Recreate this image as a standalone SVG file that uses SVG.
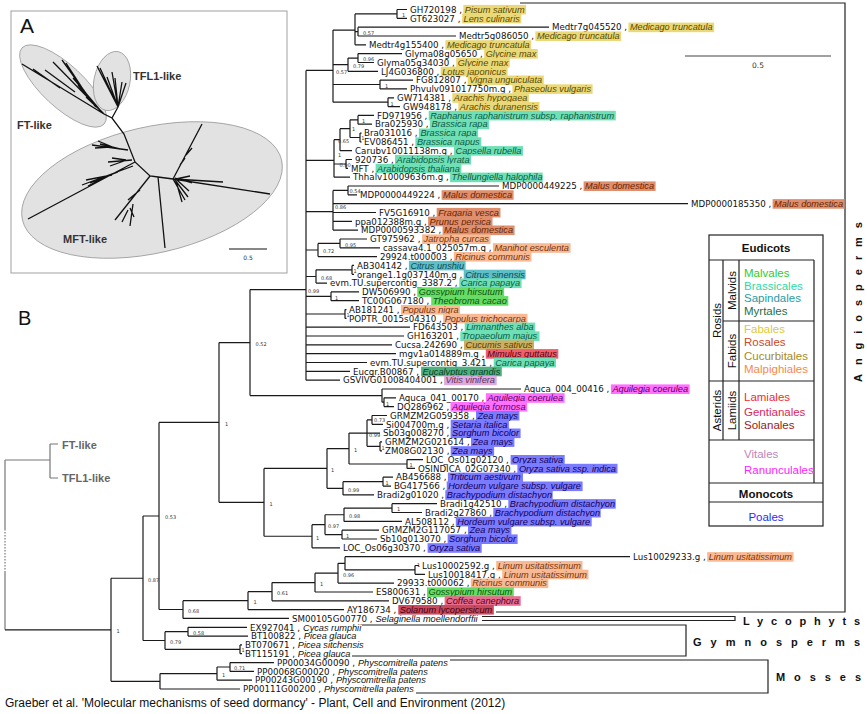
<svg xmlns="http://www.w3.org/2000/svg" width="867" height="714" viewBox="0 0 867 714">
<style>
.t{font-family:"DejaVu Sans",sans-serif;font-size:8.7px;fill:#111}
.sp{font-family:"Liberation Sans",Arial,sans-serif;font-style:italic;font-size:9.2px}
.nl{font-family:"DejaVu Sans",sans-serif;font-size:5px;fill:#333}
.br{fill:none;stroke:#1a1a1a;stroke-width:1.2}
.gr{fill:none;stroke:#777;stroke-width:1.2}
.lg{fill:none;stroke:#222;stroke-width:1.2}
.gl{font-family:"Liberation Sans",Arial,sans-serif;font-weight:bold;font-size:11px;fill:#111}
.le{font-family:"Liberation Sans",Arial,sans-serif;font-size:11.5px}
.leb{font-family:"Liberation Sans",Arial,sans-serif;font-size:11.5px;font-weight:bold;fill:#111}
.pa{font-family:"Liberation Sans",Arial,sans-serif;font-weight:bold;font-size:11px;fill:#333}
.hFab{fill:#ead978}.sFab{fill:#5c4a00}
.hBra{fill:#6fe0b6}.sBra{fill:#0b5a42}
.hRos{fill:#df8f6d}.sRos{fill:#6a2400}
.hMal{fill:#f7ba94}.sMal{fill:#7a3308}
.hSap{fill:#5fbfc6}.sSap{fill:#0b4a55}
.hMv{fill:#66dc66}.sMv{fill:#0b550b}
.hCuc{fill:#cbb066}.sCuc{fill:#5a4200}
.hLam{fill:#ef5f6c}.sLam{fill:#5a0010}
.hMyr{fill:#50b080}.sMyr{fill:#0a3d22}
.hVit{fill:#dcaadc}.sVit{fill:#603060}
.hRan{fill:#ff70ff}.sRan{fill:#600060}
.hPoa{fill:#7b7bff}.sPoa{fill:#12005a}
.hGen{fill:#e86c8e}.sGen{fill:#5a0020}
.hSol{fill:#c84a5e}.sSol{fill:#4a0010}
.sNo{fill:#111}
</style>
<rect width="867" height="714" fill="#fff"/>

<!-- Panel A -->
<g id="panelA">
<rect x="11" y="11" width="276" height="262" fill="#fff" stroke="#a0a0a0" stroke-width="1"/>
<text x="20" y="33" font-family="Liberation Sans,Arial,sans-serif" font-size="21" fill="#111">A</text>
<ellipse cx="63" cy="86" rx="56" ry="21" transform="rotate(43 63 86)" fill="#e2e2e2" stroke="#999" stroke-width="0.8"/>
<ellipse cx="112" cy="81" rx="18" ry="30" transform="rotate(12 112 81)" fill="#e2e2e2" stroke="#999" stroke-width="0.8"/>
<ellipse cx="152" cy="190" rx="133" ry="63" transform="rotate(-13 152 190)" fill="#e2e2e2" stroke="#999" stroke-width="0.8"/>
<path fill="none" stroke="#111" stroke-width="1.3" d="M22 64L104 114M33 69L60 88M53 62L104 114M62 60L95 106M66 63L92 103M73 78L100 110M78 85L96 107M86 97L102 112M45 70L75 92M104 114L112 118L124 134L135 162L150 176L158 177L173 179M112 118L118 107M118 107L97 66M118 107L100 68M118 107L107 77M118 107L115 78M118 107L122 82M118 107L126 83M118 107L112 72M128 150L92 145M115 148L98 141M110 147L95 148M120 149L100 144M135 162L28 219M133 166L82 185M112 175L86 180M105 177L88 186M118 172L90 183M132 160L108 162M124 161L110 166M126 160L112 158M150 176L115 220M140 190L128 200M133 204L130 226M130 208L134 217M128 210L122 222M158 177L165 248M173 179L202 124M186 155L192 148M180 165L185 158M173 179L223 182M173 179L270 194M173 179L185 200M175 180L188 197M176 179L190 176M175 178L192 183M176 181L182 202M177 180L189 191"/>
<text class="pa" x="133" y="80" font-size="12">TFL1-like</text>
<text class="pa" x="17" y="129" font-size="12">FT-like</text>
<text class="pa" x="63" y="243" font-size="12">MFT-like</text>
<path d="M229 249H267" stroke="#111" stroke-width="1.2"/>
<text x="248" y="260" font-family="DejaVu Sans,sans-serif" font-size="6" text-anchor="middle" fill="#333">0.5</text>
</g>

<text x="18" y="325" font-family="Liberation Sans,Arial,sans-serif" font-size="20" fill="#111">B</text>

<!-- connectors -->
<g id="connectors">
<path class="gr" d="M5 460V529M5 571V629.8M5 460H50M50 444V478M50 444H58M50 478H58"/>
<path class="gr" d="M5 529V571" stroke-dasharray="1.5 1.5"/>
<path class="br" d="M5 629.8H111
M397 9.5V18.3M397 9.5H407M397 18.3H407
M358 27.2V36M358 27.2H549M358 36H456
M355 13.9V44.8M355 13.9H397M355 31.6H358M355 44.8H366
M358 53.6V62.5M358 53.6H402M358 62.5H374
M348 58.05V71.3M348 58.05H358M348 71.3H378
M380 80.1V88.9M380 80.1H413M380 88.9H407
M388 97.8V106.6M388 97.8H394M388 106.6H400
M333 30.1V102.2M333 30.1H355M333 64.7H348M333 84.5H380M333 102.2H388
M358 115.4V124.2M358 115.4H374M358 124.2H372
M360 133.1V141.9M360 133.1H361.5M360 141.9H361.5
M350 119.8V137.5M350 119.8H358M350 137.5H360
M340 128.65V150.7M340 128.65H350M340 150.7H352
M346 159.5V168.4M346 159.5H352M346 168.4H348
M334 139.7V177.2M334 139.7H340M334 164H346M334 177.2H350
M348 186V194.8M348 186H499M348 194.8H357
M333 190.4V230.1M333 190.4H348M333 203.7H688M333 212.5H376M333 221.3H352M333 230.1H358
M340 239V247.8M340 239H367M340 247.8H380
M318 243.4V256.6M318 243.4H340M318 256.6H377
M352 265.4V274.3M352 265.4H354M352 274.3H354
M316 269.85V283.1M316 269.85H352M316 283.1H327
M331 291.9V300.7M331 291.9H359M331 300.7H359
M345 309.6V318.4M345 309.6H346.5M345 318.4H346.5
M306 70.4V380.2M306 70.4H333M306 160.3H334M306 211.6H333M306 250H318M306 276.5H316M306 296.3H331M306 314H345M306 327.2H410M306 336H404M306 344.9H392M306 353.7H396M306 362.5H367M306 371.3H350M306 380.2H340
M384 397.8V406.6M384 397.8H396M384 406.6H394M382 389V402.2M382 389H521M382 402.2H384
M250 289.6V395.6M250 289.6H306M250 395.6H382
M372 415.5V424.3M372 415.5H387M372 424.3H383
M380 441.9V450.8M380 441.9H382M380 450.8H382
M367 419.9V446.35M367 419.9H372M367 433.1H380M367 446.35H380
M407 459.6V468.4M407 459.6H423M407 468.4H415
M349 433.1V464M349 433.1H367M349 464H407
M383 477.2V486.1M383 477.2H393M383 486.1H391
M343 481.65V494.9M343 481.65H383M343 494.9H374
M327 448.55V488.3M327 448.55H349M327 488.3H343
M392 503.7V512.5M392 503.7H437M392 512.5H422
M344 508.1V521.4M344 508.1H392M344 521.4H402
M342 530.2V539M342 530.2H379M342 539H377
M325 514.75V534.6M325 514.75H344M325 534.6H342
M312 524.7V547.8M312 524.7H325M312 547.8H340
M264 468.4V536.25M264 468.4H327M264 536.25H312
M219 342.6V502.3M219 342.6H250M219 502.3H264
M415 565.5V574.3M415 565.5H419M415 574.3H425
M345 556.7V569.9M345 556.7H630M345 569.9H415
M338 563.3V583.1M338 563.3H345M338 583.1H394
M315 573.2V592M315 573.2H338M315 592H373
M272 582.6V600.8M272 582.6H315M272 600.8H389
M248 591.7V609.6M248 591.7H272M248 609.6H344
M183 600.65V618.4M183 600.65H248M183 618.4H289
M159 422.45V609.5M159 422.45H219M159 609.5H183
M188 627.3V636.1M188 627.3H247M188 636.1H248
M240 644.9V653.7M240 644.9H242M240 653.7H242
M165 631.7V649.3M165 631.7H188M165 649.3H240
M143 516V640.5M143 516H159M143 640.5H165
M230 662.6V671.4M230 662.6H274M230 671.4H254
M217 667V680.2M217 667H230M217 680.2H252
M160 673.6V689M160 673.6H217M160 689H240
M111 578.25V681.3M111 578.25H143M111 681.3H160"/>
<!-- group brackets -->
<path class="lg" d="M520 3H845V612H496M482 616.5H735V620.5H482M362 625H686V656H352M450 660H768V693H416"/>
<path d="M685 56H831" stroke="#444" stroke-width="1.2"/>
</g>
<text x="758" y="68" font-family="DejaVu Sans,sans-serif" font-size="7.5" text-anchor="middle" fill="#333">0.5</text>

<text class="pa" x="62" y="449" style="fill:#666">FT-like</text>
<text class="pa" x="62" y="482" style="fill:#666">TFL1-like</text>

<!-- support values -->
<g id="support">
<text class="nl" x="363" y="34.9">0.57</text>
<text class="nl" x="402" y="16.5">1</text>
<text class="nl" x="363" y="61.4">0.96</text>
<text class="nl" x="353" y="68">0.79</text>
<text class="nl" x="385" y="87.8">1</text>
<text class="nl" x="390.5" y="105.5">1</text>
<text class="nl" x="336" y="73.7">0.57</text>
<text class="nl" x="362" y="123">1</text>
<text class="nl" x="361.3" y="140.3">1</text>
<text class="nl" x="352" y="131">1</text>
<text class="nl" x="338" y="142.5">0.65</text>
<text class="nl" x="338" y="157">1</text>
<text class="nl" x="339.5" y="166.5">0.90</text>
<text class="nl" x="349.5" y="192.5">0.54</text>
<text class="nl" x="335" y="208.5">0.86</text>
<text class="nl" x="345" y="246.7">0.95</text>
<text class="nl" x="323" y="253.3">0.72</text>
<text class="nl" x="353.5" y="272.5">1</text>
<text class="nl" x="321" y="279.8">0.68</text>
<text class="nl" x="335" y="299.6">1</text>
<text class="nl" x="308" y="292.9">0.99</text>
<text class="nl" x="346.5" y="316.5">1</text>
<text class="nl" x="386" y="405.5">1</text>
<text class="nl" x="255.5" y="345.9">0.52</text>
<text class="nl" x="374" y="422">0.73</text>
<text class="nl" x="381.5" y="449.5">1</text>
<text class="nl" x="369" y="437">0.99</text>
<text class="nl" x="409.5" y="467">1</text>
<text class="nl" x="354" y="451.9">1</text>
<text class="nl" x="385.5" y="484.5">1</text>
<text class="nl" x="348" y="491.6">0.99</text>
<text class="nl" x="331" y="471.7">1</text>
<text class="nl" x="397" y="511.4">1</text>
<text class="nl" x="349" y="518">0.98</text>
<text class="nl" x="346" y="537.9">1</text>
<text class="nl" x="328" y="528">0.97</text>
<text class="nl" x="316" y="539.5">1</text>
<text class="nl" x="269.5" y="505.6">1</text>
<text class="nl" x="225" y="425.7">1</text>
<text class="nl" x="417" y="567">1</text>
<text class="nl" x="343" y="576.5">0.96</text>
<text class="nl" x="320" y="585.9">1</text>
<text class="nl" x="277" y="595">0.61</text>
<text class="nl" x="253.5" y="604">1</text>
<text class="nl" x="188" y="612.8">0.68</text>
<text class="nl" x="165" y="519.3">0.53</text>
<text class="nl" x="193" y="635">0.58</text>
<text class="nl" x="241.5" y="652">1</text>
<text class="nl" x="170" y="643.8">0.79</text>
<text class="nl" x="148" y="581.5">0.87</text>
<text class="nl" x="234" y="669.5">0.71</text>
<text class="nl" x="222" y="676.9">1</text>
<text class="nl" x="116.5" y="633">1</text>
</g>

<!-- leaves -->
<g id="leaf-GH720198"><rect class="hFab" x="463.3" y="4.9" width="62.8" height="9.6"/><text class="t" x="410" y="12.7">GH720198 , <tspan class="sp sFab" x="464.8">Pisum sativum</tspan></text></g>
<g id="leaf-GT623027"><rect class="hFab" x="462.1" y="13.7" width="59.2" height="9.6"/><text class="t" x="410" y="21.5">GT623027 , <tspan class="sp sFab" x="463.6">Lens culinaris</tspan></text></g>
<g id="leaf-Medtr7g045520"><rect class="hFab" x="628.4" y="22.6" width="85.8" height="9.6"/><text class="t" x="552" y="30.4">Medtr7g045520 , <tspan class="sp sFab" x="629.9">Medicago truncatula</tspan></text></g>
<g id="leaf-Medtr5g086050"><rect class="hFab" x="535.4" y="31.4" width="85.8" height="9.6"/><text class="t" x="459" y="39.2">Medtr5g086050 , <tspan class="sp sFab" x="536.9">Medicago truncatula</tspan></text></g>
<g id="leaf-Medtr4g155400"><rect class="hFab" x="445.4" y="40.2" width="85.8" height="9.6"/><text class="t" x="369" y="48">Medtr4g155400 , <tspan class="sp sFab" x="446.9">Medicago truncatula</tspan></text></g>
<g id="leaf-Glyma08g05650"><rect class="hFab" x="484.2" y="49" width="53.6" height="9.6"/><text class="t" x="405" y="56.8">Glyma08g05650 , <tspan class="sp sFab" x="485.7">Glycine max</tspan></text></g>
<g id="leaf-Glyma05g34030"><rect class="hFab" x="456.2" y="57.9" width="53.6" height="9.6"/><text class="t" x="377" y="65.7">Glyma05g34030 , <tspan class="sp sFab" x="457.7">Glycine max</tspan></text></g>
<g id="leaf-LJ4G036800"><rect class="hFab" x="440.7" y="66.7" width="66.9" height="9.6"/><text class="t" x="381" y="74.5">LJ4G036800 , <tspan class="sp sFab" x="442.2">Lotus japonicus</tspan></text></g>
<g id="leaf-FG812807"><rect class="hFab" x="467.7" y="75.5" width="76.1" height="9.6"/><text class="t" x="416" y="83.3">FG812807 , <tspan class="sp sFab" x="469.2">Vigna unguiculata</tspan></text></g>
<g id="leaf-Phvulv091017750m.g"><rect class="hFab" x="512.4" y="84.3" width="80.2" height="9.6"/><text class="t" x="410" y="92.1">Phvulv091017750m.g , <tspan class="sp sFab" x="513.9">Phaseolus vulgaris</tspan></text></g>
<g id="leaf-GW714381"><rect class="hFab" x="452.3" y="93.2" width="76.6" height="9.6"/><text class="t" x="397" y="101">GW714381 , <tspan class="sp sFab" x="453.8">Arachis hypogaea</tspan></text></g>
<g id="leaf-GW948178"><rect class="hFab" x="458.3" y="102" width="81.2" height="9.6"/><text class="t" x="403" y="109.8">GW948178 , <tspan class="sp sFab" x="459.8">Arachis duranensis</tspan></text></g>
<g id="leaf-FD971956"><rect class="hBra" x="428.7" y="110.8" width="187.1" height="9.6"/><text class="t" x="377" y="118.6">FD971956 , <tspan class="sp sBra" x="430.2">Raphanus raphanistrum subsp. raphanistrum</tspan></text></g>
<g id="leaf-Bra025930"><rect class="hBra" x="429.9" y="119.6" width="59.2" height="9.6"/><text class="t" x="375" y="127.4">Bra025930 , <tspan class="sp sBra" x="431.4">Brassica rapa</tspan></text></g>
<g id="leaf-Bra031016"><rect class="hBra" x="418.9" y="128.5" width="59.2" height="9.6"/><text class="t" x="364" y="136.3">Bra031016 , <tspan class="sp sBra" x="420.4">Brassica rapa</tspan></text></g>
<g id="leaf-EV086451"><rect class="hBra" x="415.4" y="137.3" width="65.9" height="9.6"/><text class="t" x="364" y="145.1">EV086451 , <tspan class="sp sBra" x="416.9">Brassica napus</tspan></text></g>
<g id="leaf-Carubv10011138m.g"><rect class="hBra" x="454" y="146.1" width="69" height="9.6"/><text class="t" x="355" y="153.9">Carubv10011138m.g , <tspan class="sp sBra" x="455.5">Capsella rubella</tspan></text></g>
<g id="leaf-920736"><rect class="hBra" x="395" y="154.9" width="76.1" height="9.6"/><text class="t" x="355" y="162.7">920736 , <tspan class="sp sBra" x="396.5">Arabidopsis lyrata</tspan></text></g>
<g id="leaf-MFT"><rect class="hBra" x="375.6" y="163.8" width="85.8" height="9.6"/><text class="t" x="351" y="171.6">MFT , <tspan class="sp sBra" x="377.1">Arabidopsis thaliana</tspan></text></g>
<g id="leaf-Thhalv10009636m.g"><rect class="hBra" x="450.1" y="172.6" width="92.6" height="9.6"/><text class="t" x="353" y="180.4">Thhalv10009636m.g , <tspan class="sp sBra" x="451.6">Thellungiella halophila</tspan></text></g>
<g id="leaf-MDP0000449225"><rect class="hRos" x="583.6" y="181.4" width="72" height="9.6"/><text class="t" x="502" y="189.2">MDP0000449225 , <tspan class="sp sRos" x="585.1">Malus domestica</tspan></text></g>
<g id="leaf-MDP0000449224"><rect class="hRos" x="441.6" y="190.2" width="72" height="9.6"/><text class="t" x="360" y="198">MDP0000449224 , <tspan class="sp sRos" x="443.1">Malus domestica</tspan></text></g>
<g id="leaf-MDP0000185350"><rect class="hRos" x="772.6" y="199.1" width="72" height="9.6"/><text class="t" x="691" y="206.9">MDP0000185350 , <tspan class="sp sRos" x="774.1">Malus domestica</tspan></text></g>
<g id="leaf-FV5G16910"><rect class="hRos" x="436.7" y="207.9" width="63.8" height="9.6"/><text class="t" x="379" y="215.7">FV5G16910 , <tspan class="sp sRos" x="438.2">Fragaria vesca</tspan></text></g>
<g id="leaf-ppa012388m.g"><rect class="hRos" x="428.1" y="216.7" width="64.4" height="9.6"/><text class="t" x="355" y="224.5">ppa012388m.g , <tspan class="sp sRos" x="429.6">Prunus persica</tspan></text></g>
<g id="leaf-MDP0000593382"><rect class="hRos" x="442.6" y="225.5" width="72" height="9.6"/><text class="t" x="361" y="233.3">MDP0000593382 , <tspan class="sp sRos" x="444.1">Malus domestica</tspan></text></g>
<g id="leaf-GT975962"><rect class="hMal" x="422.1" y="234.4" width="68.4" height="9.6"/><text class="t" x="370" y="242.2">GT975962 , <tspan class="sp sMal" x="423.6">Jatropha curcas</tspan></text></g>
<g id="leaf-cassava4.1_025057m.g"><rect class="hMal" x="492.9" y="243.2" width="77.7" height="9.6"/><text class="t" x="383" y="251">cassava4.1_025057m.g , <tspan class="sp sMal" x="494.4">Manihot esculenta</tspan></text></g>
<g id="leaf-29924.t000003"><rect class="hMal" x="453.8" y="252" width="77.6" height="9.6"/><text class="t" x="380" y="259.8">29924.t000003 , <tspan class="sp sMal" x="455.3">Ricinus communis</tspan></text></g>
<g id="leaf-AB304142"><rect class="hSap" x="408.9" y="260.8" width="56.7" height="9.6"/><text class="t" x="357" y="268.6">AB304142 , <tspan class="sp sSap" x="410.4">Citrus unshiu</tspan></text></g>
<g id="leaf-orange1.1g037140m.g"><rect class="hSap" x="463.7" y="269.7" width="61.9" height="9.6"/><text class="t" x="357" y="277.5">orange1.1g037140m.g , <tspan class="sp sSap" x="465.2">Citrus sinensis</tspan></text></g>
<g id="leaf-evm.TU.supercontig_3387.2"><rect class="hBra" x="459.3" y="278.5" width="62.3" height="9.6"/><text class="t" x="330" y="286.3">evm.TU.supercontig_3387.2 , <tspan class="sp sBra" x="460.8">Carica papaya</tspan></text></g>
<g id="leaf-DW506990"><rect class="hMv" x="417.3" y="287.3" width="86.8" height="9.6"/><text class="t" x="362" y="295.1">DW506990 , <tspan class="sp sMv" x="418.8">Gossypium hirsutum</tspan></text></g>
<g id="leaf-TC00G067180"><rect class="hMv" x="431.2" y="296.1" width="77.1" height="9.6"/><text class="t" x="362" y="303.9">TC00G067180 , <tspan class="sp sMv" x="432.7">Theobroma cacao</tspan></text></g>
<g id="leaf-AB181241"><rect class="hMal" x="400.9" y="305" width="59.2" height="9.6"/><text class="t" x="349" y="312.8">AB181241 , <tspan class="sp sMal" x="402.4">Populus nigra</tspan></text></g>
<g id="leaf-POPTR_0015s04310"><rect class="hMal" x="443.2" y="313.8" width="84.3" height="9.6"/><text class="t" x="349" y="321.6">POPTR_0015s04310 , <tspan class="sp sMal" x="444.7">Populus trichocarpa</tspan></text></g>
<g id="leaf-FD643503"><rect class="hBra" x="464.7" y="322.6" width="70.5" height="9.6"/><text class="t" x="413" y="330.4">FD643503 , <tspan class="sp sBra" x="466.2">Limnanthes alba</tspan></text></g>
<g id="leaf-GH163201"><rect class="hBra" x="460.3" y="331.4" width="79.2" height="9.6"/><text class="t" x="407" y="339.2">GH163201 , <tspan class="sp sBra" x="461.8">Tropaeolum majus</tspan></text></g>
<g id="leaf-Cucsa.242690"><rect class="hCuc" x="464" y="340.3" width="70" height="9.6"/><text class="t" x="395" y="348.1">Cucsa.242690 , <tspan class="sp sCuc" x="465.5">Cucumis sativus</tspan></text></g>
<g id="leaf-mgv1a014889m.g"><rect class="hLam" x="485.8" y="349.1" width="72.5" height="9.6"/><text class="t" x="399" y="356.9">mgv1a014889m.g , <tspan class="sp sLam" x="487.3">Mimulus guttatus</tspan></text></g>
<g id="leaf-evm.TU.supercontig_3.421"><rect class="hBra" x="493.7" y="357.9" width="62.3" height="9.6"/><text class="t" x="370" y="365.7">evm.TU.supercontig_3.421 , <tspan class="sp sBra" x="495.2">Carica papaya</tspan></text></g>
<g id="leaf-Eucgr.B00867"><rect class="hMyr" x="421.1" y="366.7" width="80.7" height="9.6"/><text class="t" x="353" y="374.5">Eucgr.B00867 , <tspan class="sp sMyr" x="422.6">Eucalyptus grandis</tspan></text></g>
<g id="leaf-GSVIVG01008404001"><rect class="hVit" x="444.1" y="375.6" width="52.6" height="9.6"/><text class="t" x="343" y="383.4">GSVIVG01008404001 , <tspan class="sp sVit" x="445.6">Vitis vinifera</tspan></text></g>
<g id="leaf-Aquca_004_00416"><rect class="hRan" x="610.9" y="384.4" width="78.7" height="9.6"/><text class="t" x="524" y="392.2">Aquca_004_00416 , <tspan class="sp sRan" x="612.4">Aquilegia coerulea</tspan></text></g>
<g id="leaf-Aquca_041_00170"><rect class="hRan" x="485.9" y="393.2" width="78.7" height="9.6"/><text class="t" x="399" y="401">Aquca_041_00170 , <tspan class="sp sRan" x="487.4">Aquilegia coerulea</tspan></text></g>
<g id="leaf-DQ286962"><rect class="hRan" x="450.5" y="402" width="76.6" height="9.6"/><text class="t" x="397" y="409.8">DQ286962 , <tspan class="sp sRan" x="452">Aquilegia formosa</tspan></text></g>
<g id="leaf-GRMZM2G059358"><rect class="hPoa" x="476" y="410.9" width="43.4" height="9.6"/><text class="t" x="390" y="418.7">GRMZM2G059358 , <tspan class="sp sPoa" x="477.5">Zea mays</tspan></text></g>
<g id="leaf-Si004700m.g"><rect class="hPoa" x="450.7" y="419.7" width="58.2" height="9.6"/><text class="t" x="386" y="427.5">Si004700m.g , <tspan class="sp sPoa" x="452.2">Setaria italica</tspan></text></g>
<g id="leaf-Sb03g008270"><rect class="hPoa" x="450.6" y="428.5" width="70" height="9.6"/><text class="t" x="383" y="436.3">Sb03g008270 , <tspan class="sp sPoa" x="452.1">Sorghum bicolor</tspan></text></g>
<g id="leaf-GRMZM2G021614"><rect class="hPoa" x="471" y="437.3" width="43.4" height="9.6"/><text class="t" x="385" y="445.1">GRMZM2G021614 , <tspan class="sp sPoa" x="472.5">Zea mays</tspan></text></g>
<g id="leaf-ZM08G02130"><rect class="hPoa" x="450.7" y="446.2" width="43.4" height="9.6"/><text class="t" x="385" y="454">ZM08G02130 , <tspan class="sp sPoa" x="452.2">Zea mays</tspan></text></g>
<g id="leaf-LOC_Os01g02120"><rect class="hPoa" x="510.6" y="455" width="54.1" height="9.6"/><text class="t" x="426" y="462.8">LOC_Os01g02120 , <tspan class="sp sPoa" x="512.1">Oryza sativa</tspan></text></g>
<g id="leaf-OSINDICA_02G07340"><rect class="hPoa" x="517.4" y="463.8" width="100.1" height="9.6"/><text class="t" x="418" y="471.6">OSINDICA_02G07340 , <tspan class="sp sPoa" x="518.9">Oryza sativa ssp. indica</tspan></text></g>
<g id="leaf-AB456688"><rect class="hPoa" x="447.9" y="472.6" width="75.1" height="9.6"/><text class="t" x="396" y="480.4">AB456688 , <tspan class="sp sPoa" x="449.4">Triticum aestivum</tspan></text></g>
<g id="leaf-BG417566"><rect class="hPoa" x="446.7" y="481.5" width="135.9" height="9.6"/><text class="t" x="394" y="489.3">BG417566 , <tspan class="sp sPoa" x="448.2">Hordeum vulgare subsp. vulgare</tspan></text></g>
<g id="leaf-Bradi2g01020"><rect class="hPoa" x="445.3" y="490.3" width="107.4" height="9.6"/><text class="t" x="377" y="498.1">Bradi2g01020 , <tspan class="sp sPoa" x="446.8">Brachypodium distachyon</tspan></text></g>
<g id="leaf-Bradi1g42510"><rect class="hPoa" x="508.3" y="499.1" width="107.4" height="9.6"/><text class="t" x="440" y="506.9">Bradi1g42510 , <tspan class="sp sPoa" x="509.8">Brachypodium distachyon</tspan></text></g>
<g id="leaf-Bradi2g27860"><rect class="hPoa" x="493.3" y="507.9" width="107.4" height="9.6"/><text class="t" x="425" y="515.7">Bradi2g27860 , <tspan class="sp sPoa" x="494.8">Brachypodium distachyon</tspan></text></g>
<g id="leaf-AL508112"><rect class="hPoa" x="455.8" y="516.8" width="135.9" height="9.6"/><text class="t" x="405" y="524.6">AL508112 , <tspan class="sp sPoa" x="457.3">Hordeum vulgare subsp. vulgare</tspan></text></g>
<g id="leaf-GRMZM2G117057"><rect class="hPoa" x="468" y="525.6" width="43.4" height="9.6"/><text class="t" x="382" y="533.4">GRMZM2G117057 , <tspan class="sp sPoa" x="469.5">Zea mays</tspan></text></g>
<g id="leaf-Sb10g013070"><rect class="hPoa" x="447.6" y="534.4" width="70" height="9.6"/><text class="t" x="380" y="542.2">Sb10g013070 , <tspan class="sp sPoa" x="449.1">Sorghum bicolor</tspan></text></g>
<g id="leaf-LOC_Os06g30370"><rect class="hPoa" x="427.6" y="543.2" width="54.1" height="9.6"/><text class="t" x="343" y="551">LOC_Os06g30370 , <tspan class="sp sPoa" x="429.1">Oryza sativa</tspan></text></g>
<g id="leaf-Lus10029233.g"><rect class="hMal" x="707.2" y="552.1" width="86.3" height="9.6"/><text class="t" x="633" y="559.9">Lus10029233.g , <tspan class="sp sMal" x="708.7">Linum usitatissimum</tspan></text></g>
<g id="leaf-Lus10002592.g"><rect class="hMal" x="496.2" y="560.9" width="86.3" height="9.6"/><text class="t" x="422" y="568.7">Lus10002592.g , <tspan class="sp sMal" x="497.7">Linum usitatissimum</tspan></text></g>
<g id="leaf-Lus10018417.g"><rect class="hMal" x="502.2" y="569.7" width="86.3" height="9.6"/><text class="t" x="428" y="577.5">Lus10018417.g , <tspan class="sp sMal" x="503.7">Linum usitatissimum</tspan></text></g>
<g id="leaf-29933.t000062"><rect class="hMal" x="470.8" y="578.5" width="77.6" height="9.6"/><text class="t" x="397" y="586.3">29933.t000062 , <tspan class="sp sMal" x="472.3">Ricinus communis</tspan></text></g>
<g id="leaf-ES800631"><rect class="hMv" x="427" y="587.4" width="86.8" height="9.6"/><text class="t" x="376" y="595.2">ES800631 , <tspan class="sp sMv" x="428.5">Gossypium hirsutum</tspan></text></g>
<g id="leaf-DV679580"><rect class="hGen" x="444.6" y="596.2" width="76.1" height="9.6"/><text class="t" x="392" y="604">DV679580 , <tspan class="sp sGen" x="446.1">Coffea canephora</tspan></text></g>
<g id="leaf-AY186734"><rect class="hSol" x="398.3" y="605" width="95.5" height="9.6"/><text class="t" x="347" y="612.8">AY186734 , <tspan class="sp sSol" x="399.8">Solanum lycopersicum</tspan></text></g>
<g id="leaf-SM00105G00770"><text class="t" x="292" y="621.6">SM00105G00770 , <tspan class="sp sNo" x="375.4">Selaginella moellendorffii</tspan></text></g>
<g id="leaf-EX927041"><text class="t" x="250" y="630.5">EX927041 , <tspan class="sp sNo" x="303">Cycas rumphii</tspan></text></g>
<g id="leaf-BT100822"><text class="t" x="251" y="639.3">BT100822 , <tspan class="sp sNo" x="303.8">Picea glauca</tspan></text></g>
<g id="leaf-BT070671"><text class="t" x="245" y="648.1">BT070671 , <tspan class="sp sNo" x="297.8">Picea sitchensis</tspan></text></g>
<g id="leaf-BT115191"><text class="t" x="245" y="656.9">BT115191 , <tspan class="sp sNo" x="297.8">Picea glauca</tspan></text></g>
<g id="leaf-PP00034G00090"><text class="t" x="277" y="665.8">PP00034G00090 , <tspan class="sp sNo" x="357.9">Physcomitrella patens</tspan></text></g>
<g id="leaf-PP00068G00020"><text class="t" x="257" y="674.6">PP00068G00020 , <tspan class="sp sNo" x="337.9">Physcomitrella patens</tspan></text></g>
<g id="leaf-PP00243G00190"><text class="t" x="255" y="683.4">PP00243G00190 , <tspan class="sp sNo" x="335.9">Physcomitrella patens</tspan></text></g>
<g id="leaf-PP00111G00200"><text class="t" x="243" y="692.2">PP00111G00200 , <tspan class="sp sNo" x="323.9">Physcomitrella patens</tspan></text></g>

<!-- group labels -->
<g id="grp-angiosperms"><text class="gl" transform="translate(862 382) rotate(-90)" textLength="160" lengthAdjust="spacing">Angiosperms</text></g>
<g id="grp-lycophyts"><text class="gl" x="743" y="624.5" textLength="117" lengthAdjust="spacing">Lycophyts</text></g>
<g id="grp-gymnosperms"><text class="gl" x="693" y="646" textLength="167" lengthAdjust="spacing">Gymnosperms</text></g>
<g id="grp-mosses"><text class="gl" x="776" y="681" textLength="85" lengthAdjust="spacing">Mosses</text></g>

<!-- legend -->
<g id="legend">
<rect x="709" y="235" width="114" height="291" fill="#fff" stroke="#222" stroke-width="1.2"/>
<path class="lg" d="M709 260H814M814 260V483M723 260V440M739 260V440M723 321H814M709 381H814M709 440H814M709 483H823M709 502H823"/>
<text class="leb" x="766" y="252" text-anchor="middle">Eudicots</text>
<text class="le" text-anchor="middle" transform="translate(720.5 320.5) rotate(-90)" fill="#111">Rosids</text>
<text class="le" text-anchor="middle" transform="translate(736 290.5) rotate(-90)" fill="#111">Malvids</text>
<text class="le" text-anchor="middle" transform="translate(736 351) rotate(-90)" fill="#111">Fabids</text>
<text class="le" text-anchor="middle" transform="translate(720.5 410.5) rotate(-90)" fill="#111">Asterids</text>
<text class="le" text-anchor="middle" transform="translate(736 410.5) rotate(-90)" fill="#111">Lamiids</text>
<text class="le" x="744" y="276.5" fill="#2ecc2e">Malvales</text>
<text class="le" x="744" y="289.5" fill="#2fd8a6">Brassicales</text>
<text class="le" x="744" y="302" fill="#2a9aa2">Sapindales</text>
<text class="le" x="744" y="314.5" fill="#1f6e48">Myrtales</text>
<text class="le" x="744" y="332.5" fill="#e0c836">Fabales</text>
<text class="le" x="744" y="346" fill="#c94a28">Rosales</text>
<text class="le" x="744" y="359.5" fill="#a88a22">Cucurbitales</text>
<text class="le" x="744" y="372.5" fill="#f7884a">Malpighiales</text>
<text class="le" x="744" y="400.5" fill="#f52a2a">Lamiales</text>
<text class="le" x="744" y="415.5" fill="#d8285a">Gentianales</text>
<text class="le" x="744" y="428.5" fill="#962222">Solanales</text>
<text class="le" x="744" y="457.5" fill="#bb88bb">Vitales</text>
<text class="le" x="744" y="473.5" fill="#ff22ff">Ranunculales</text>
<text class="leb" x="766" y="497.5" text-anchor="middle">Monocots</text>
<text class="le" x="766" y="520.5" text-anchor="middle" fill="#2a2aff">Poales</text>
</g>

<text x="5" y="707" font-family="Liberation Sans,Arial,sans-serif" font-size="12" fill="#111">Graeber et al. 'Molecular mechanisms of seed dormancy' - Plant, Cell and Environment (2012)</text>
</svg>
